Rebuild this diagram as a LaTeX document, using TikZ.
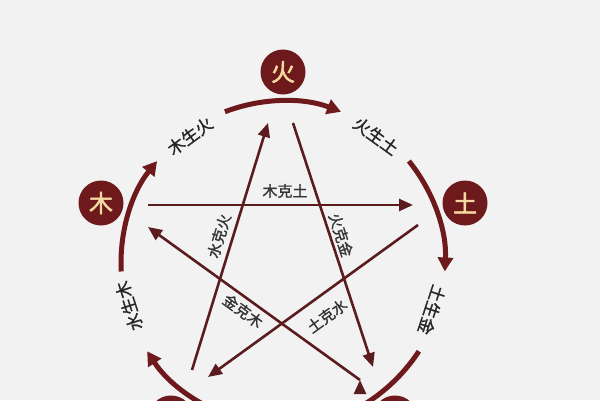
\documentclass[tikz,border=0pt]{standalone}
\usepackage{fontspec}
\newfontfamily\cjk{Noto Sans CJK SC}
\newfontfamily\cjkheavy[FakeBold=2]{Noto Sans CJK SC}
\newfontfamily\cjkmid[FakeBold=1.2]{Noto Sans CJK SC}
\usetikzlibrary{arrows.meta}
\definecolor{wxred}{HTML}{6E1A1C}
\definecolor{cream}{HTML}{F4D9A2}
\definecolor{inkline}{HTML}{5A1C1F}
\definecolor{bgcol}{HTML}{F3F2F2}
\begin{document}
\begin{tikzpicture}[x=1pt,y=1pt,
	elem/.style={circle, fill=wxred, minimum size=45pt, inner sep=0pt, text=cream, font=\cjkheavy\fontsize{24}{24}\selectfont},
	sheng/.style={wxred, line width=5pt, ->, >={Triangle[length=14pt,width=15pt]}},
	ke/.style={inkline, line width=2.6pt, ->, >={Triangle[length=14pt,width=12pt]}},
	shenglab/.style={font=\cjkmid\fontsize{17}{17}\selectfont, text=black!85},
	kelab/.style={font=\cjkmid\fontsize{15}{15}\selectfont, text=black!80}]
	\useasboundingbox (0,0) rectangle (600,400);
	\clip (0,0) rectangle (600,400);
	\fill[bgcol] (0,0) rectangle (600,400);
	\coordinate (o) at (283,137);
	
			\node	(huo) at (283,328) [elem] {火};
			\node	(mu) at (101,197) [elem] {木};
			\node	(tu) at (465,197) [elem] {土};
			\node	(shui) at (171,-18) [elem] {};
			\node	(jin) at (395,-18) [elem] {};
			
			% sheng cycle
			\foreach \a [evaluate=\a as \s using \a+21, evaluate=\a as \e using \a-21] in {90,18,-54,234,162}
			\draw[sheng] (o) ++(\s:162) arc[start angle=\s, end angle=\e, radius=162];
			
			\node	(mushenghuo) at (190,264) [shenglab, rotate=36] {木生火};
			\node	(huoshengtu) at (376,264) [shenglab, rotate=-36] {火生土};
			\node	(tushengjin) at (432,90) [shenglab, rotate=-108] {土生金};
			\node	(shuishengmu) at (129,94) [shenglab, rotate=108] {水生木};
			
			% ke cycle
			\coordinate (mukeA) at (148,195);
			\coordinate (mukeB) at (413,195);
			\coordinate (tukeA) at (418,175);
			\coordinate (tukeB) at (208,23);
			\coordinate (shuikeA) at (192,30);
			\coordinate (shuikeB) at (268,277);
			\coordinate (huokeA) at (293,277);
			\coordinate (huokeB) at (373,33);
			\coordinate (jinkeA) at (360,20);
			\coordinate (jinkeB) at (148,173);
			
			\draw[ke]
			(mukeA) edge (mukeB)
			(tukeA) edge (tukeB)
			(shuikeA) edge (shuikeB)
			(huokeA) edge (huokeB)
			(jinkeA) edge (jinkeB)
			;
			
			\node	(mukelab) at (285,209) [kelab] {木克土};
			\node	(shuikelab) at (219,164) [kelab, rotate=73] {水克火};
			\node	(huokelab) at (341,165) [kelab, rotate=-72] {火克金};
			\node	(tukelab) at (327,84) [kelab, rotate=36] {土克水};
			\node	(jinkelab) at (243,89) [kelab, rotate=-36] {金克木};
\end{tikzpicture}
\end{document}
